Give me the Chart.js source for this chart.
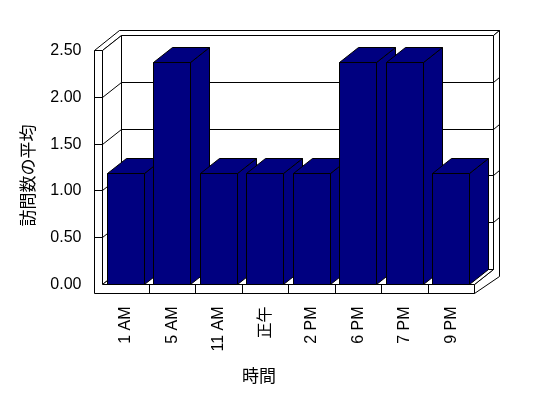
<!DOCTYPE html>
<html>
<head>
<meta charset="utf-8">
<script src="https://cdn.jsdelivr.net/npm/chart.js@4.4.0/dist/chart.umd.min.js"></script>
<style>
  html, body { margin: 0; padding: 0; background: #fff; }
  canvas { display: block; }
</style>
</head>
<body>
<canvas id="visitChart" width="548" height="398"></canvas>
<script>
// ── data ──
const hours = ['1 AM', '5 AM', '11 AM', '正午', '2 PM', '6 PM', '7 PM', '9 PM'];
const avgVisits = [1.19, 2.37, 1.19, 1.19, 1.19, 2.37, 2.37, 1.19];
const yMin = 0, yMax = 2.5, yStep = 0.5;
const xTitle = '時間';
const yTitle = '訪問数の平均';

const FONT = '"Liberation Sans", "Noto Sans CJK JP", sans-serif';
const NAVY = '#000080';
const DX = 19, DY = -15;     // depth of the box (front -> back wall)
const ODX = 25, ODY = -20;   // depth incl. back wall thickness
const WALL = 8, FLOOR = 9;   // slab thickness of left wall / floor

const snap = v => Math.round(v - 0.5) + 0.5;

function poly(ctx, pts, fill) {
    ctx.beginPath();
    ctx.moveTo(pts[0][0], pts[0][1]);
    for (let i = 1; i < pts.length; i++) ctx.lineTo(pts[i][0], pts[i][1]);
    ctx.closePath();
    ctx.fillStyle = fill;
    ctx.fill();
    ctx.stroke();
}

function seg(ctx, x1, y1, x2, y2) {
    ctx.beginPath();
    ctx.moveTo(x1, y1);
    ctx.lineTo(x2, y2);
    ctx.stroke();
}

// walls, floor and gridlines of the 3D box
const box3d = {
    id: 'box3d',
    beforeDatasetsDraw(chart) {
        const { ctx, chartArea: a, scales: { x, y } } = chart;
        const L = snap(a.left), R = snap(a.right), T = snap(a.top), B = snap(a.bottom);
        ctx.save();
        ctx.strokeStyle = '#000';
        ctx.lineWidth = 1;

        // back wall face
        poly(ctx, [[L + DX, T + DY], [R + DX, T + DY], [R + DX, B + DY], [L + DX, B + DY]], '#fff');
        // top edge of walls
        poly(ctx, [[L - WALL, T], [L, T], [L + DX, T + DY], [R + DX, T + DY],
                   [R + ODX, T + ODY], [L - WALL + ODX, T + ODY]], '#fff');
        // right side of back wall + floor
        poly(ctx, [[R + DX, T + DY], [R + ODX, T + ODY], [R + ODX, B + DY + 7],
                   [R, B + FLOOR], [R, B], [R + DX, B + DY]], '#fff');
        // left wall inner face
        poly(ctx, [[L, T], [L + DX, T + DY], [L + DX, B + DY], [L, B]], '#fff');
        // floor top
        poly(ctx, [[L, B], [R, B], [R + DX, B + DY], [L + DX, B + DY]], '#fff');
        // front faces of left wall and floor
        poly(ctx, [[L - WALL, T], [L, T], [L, B], [R, B], [R, B + FLOOR], [L - WALL, B + FLOOR]], '#fff');

        // gridlines
        for (let v = yMin + yStep; v < yMax - 1e-6; v += yStep) {
            const py = snap(y.getPixelForValue(v));
            seg(ctx, L - WALL, py, L, py);
            seg(ctx, L, py, L + DX, py + DY);
            seg(ctx, L + DX, py + DY, R + DX, py + DY);
            seg(ctx, R + DX, py + DY, R + ODX, py + DY - 5);
        }

        // category dividers on the floor front
        for (let i = 0; i < hours.length - 1; i++) {
            const px = snap((x.getPixelForValue(i) + x.getPixelForValue(i + 1)) / 2);
            seg(ctx, px, B, px, B + FLOOR);
        }
        ctx.restore();
    },
    afterDatasetsDraw(chart) {
        const { ctx } = chart;
        const meta = chart.getDatasetMeta(0);
        ctx.save();
        ctx.strokeStyle = '#000';
        ctx.lineWidth = 1;
        meta.data.forEach(bar => {
            const x0 = snap(bar.x - bar.width / 2), x1 = snap(bar.x + bar.width / 2);
            const top = snap(bar.y), base = snap(bar.base);
            // front, side, top
            poly(ctx, [[x0, top], [x1, top], [x1, base], [x0, base]], NAVY);
            poly(ctx, [[x1, top], [x1 + DX, top + DY], [x1 + DX, base + DY], [x1, base]], NAVY);
            poly(ctx, [[x0, top], [x1, top], [x1 + DX, top + DY], [x0 + DX, top + DY]], NAVY);
        });

        // axis titles
        ctx.fillStyle = '#000';
        ctx.font = '17px ' + FONT;
        ctx.textAlign = 'center';
        ctx.textBaseline = 'middle';
        ctx.fillText(xTitle, 259, 377);
        ctx.translate(29.5, 175.5);
        ctx.rotate(-Math.PI / 2);
        ctx.fillText(yTitle, 0, 0);
        ctx.restore();
    }
};

const ctx = document.getElementById('visitChart').getContext('2d');
new Chart(ctx, {
    type: 'bar',
    data: {
        labels: hours,
        datasets: [{
            data: avgVisits,
            backgroundColor: 'rgba(0,0,0,0)',
            borderWidth: 0,
            barPercentage: 0.8,
            categoryPercentage: 1
        }]
    },
    options: {
        responsive: false,
        animation: false,
        events: [],
        layout: { padding: { left: 0, top: 50.5, right: 73.5, bottom: 0 } },
        plugins: { legend: { display: false }, tooltip: { enabled: false } },
        scales: {
            x: {
                grid: { display: false, drawTicks: false },
                border: { display: false },
                ticks: { color: '#000', font: { size: 16, family: FONT }, minRotation: 90, maxRotation: 90, padding: 22 },
                afterFit: s => { s.height = 113.5; }
            },
            y: {
                min: yMin, max: yMax,
                grid: { display: false, drawTicks: false },
                border: { display: false },
                ticks: { stepSize: yStep, color: '#000', font: { size: 16, family: FONT }, padding: 21,
                         callback: v => v.toFixed(2) },
                afterFit: s => { s.width = 102.5; }
            }
        }
    },
    plugins: [box3d]
});
</script>
</body>
</html>
